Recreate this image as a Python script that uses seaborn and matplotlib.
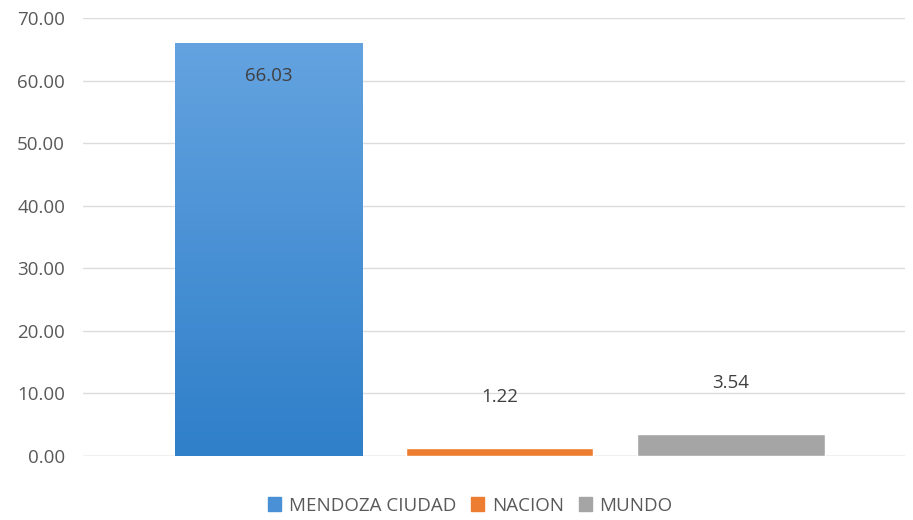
import numpy as np
import pandas as pd
import matplotlib
matplotlib.use('Agg')
import matplotlib.pyplot as plt
import seaborn as sns
from matplotlib.ticker import FormatStrFormatter

sns.set_style('white')
plt.rcParams['font.family'] = ['Open Sans', 'DejaVu Sans']

series = ['MENDOZA CIUDAD', 'NACION', 'MUNDO']
values = [66.03, 1.22, 3.54]
colors = ['#4a90d6', '#ed7d31', '#a5a5a5']
yticks = [0, 10, 20, 30, 40, 50, 60, 70]

df = pd.DataFrame({'serie': series, 'valor': values})

fig = plt.figure(figsize=(9.13, 5.2), dpi=100)
ax = fig.add_axes([0.091, 0.123, 0.9, 0.842])

sns.barplot(data=df, x='serie', y='valor', hue='serie', order=series,
            hue_order=series, palette=colors, width=0.81, dodge=False,
            legend=False, saturation=1, ax=ax)

# gradient on the first (blue) bar
bar = ax.patches[0]
x0, y0 = bar.get_x(), bar.get_y()
w, h = bar.get_width(), bar.get_height()
grad = np.linspace(0, 1, 256).reshape(-1, 1)
cmap = matplotlib.colors.LinearSegmentedColormap.from_list('b', ['#2f7fc9', '#64a3e0'])
im = ax.imshow(grad, extent=[x0, x0 + w, y0, y0 + h], origin='lower',
               aspect='auto', cmap=cmap, zorder=bar.get_zorder() + 0.1)
im.set_clip_path(bar)

ax.set_xlim(-0.8, 2.75)
ax.set_ylim(0, 70)
ax.set_yticks(yticks)
ax.yaxis.set_major_formatter(FormatStrFormatter('%.2f'))
ax.grid(axis='y', color='#dcdcdc', linewidth=1)
ax.set_axisbelow(True)
for s in ax.spines.values():
    s.set_visible(False)
ax.axhline(0, color='#cfcfcf', linewidth=1, zorder=0.5)
ax.set_xticks([])
ax.set_xlabel('')
ax.set_ylabel('')
ax.tick_params(axis='y', length=0, labelsize=13.5, labelcolor='#595959', pad=13)

# data labels
ax.annotate(f'{values[0]:.2f}', (0, values[0]), xytext=(0, -24), textcoords='offset points',
            ha='center', va='center', fontsize=13.5, color='#404040', zorder=5)
for i in (1, 2):
    ax.annotate(f'{values[i]:.2f}', (i, values[i]), xytext=(0, 37), textcoords='offset points',
                ha='center', va='center', fontsize=13.5, color='#404040', zorder=5)

handles = [plt.Rectangle((0, 0), 1, 1, color=c) for c in colors]
fig.legend(handles, series, loc='lower center', bbox_to_anchor=(0.515, -0.022), ncol=3,
           frameon=False, fontsize=13.5, labelcolor='#595959', handlelength=0.7,
           handleheight=0.7, handletextpad=0.4, columnspacing=0.8)

fig.savefig('out.png', dpi=100)
